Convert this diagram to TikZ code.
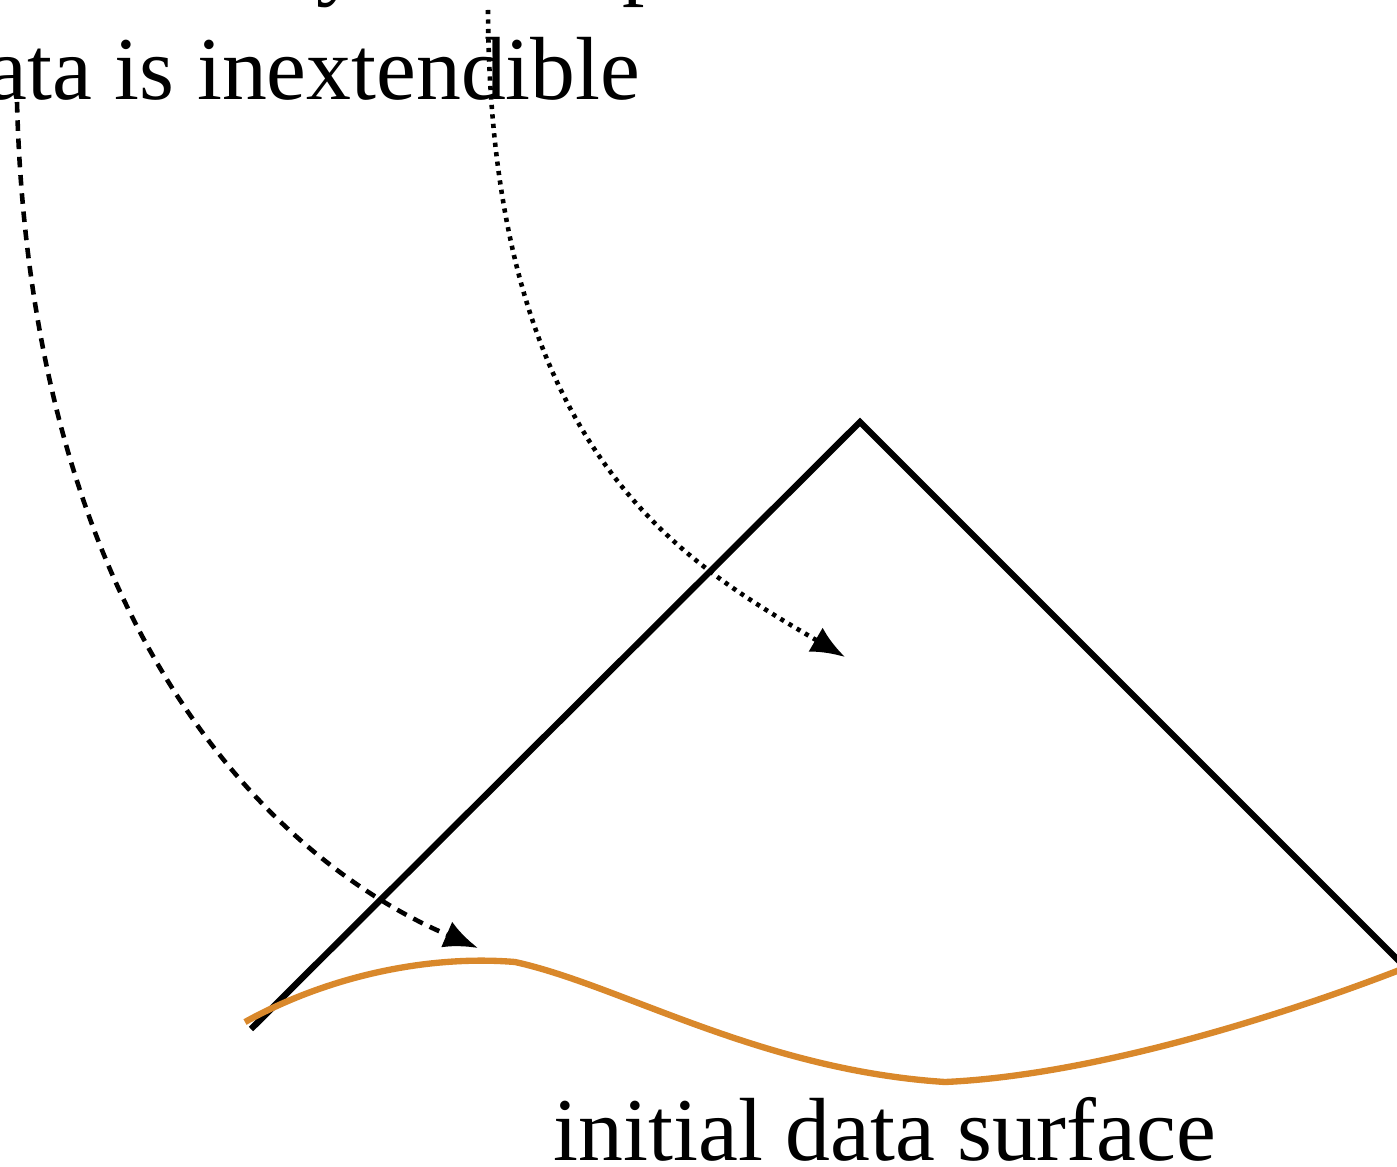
\documentclass[tikz,border=0pt]{standalone}
\usepackage{fontspec}
\setmainfont{Liberation Serif}
\usetikzlibrary{arrows.meta}
\definecolor{surforange}{RGB}{217,136,43}

\begin{document}
\begin{tikzpicture}[x=0.01cm,y=-0.01cm,
    edge/.style={line width=1.8pt,line join=miter},
    surf/.style={line width=1.8pt,draw=surforange},
    lbl/.style={font=\fontsize{25.5}{30}\selectfont,inner sep=0pt},
    arr/.style={-{Latex[length=3.4mm,width=2.8mm]},line width=1.3pt}]
  \useasboundingbox (0,0) rectangle (1397,1167);
  \clip (0,0) rectangle (1397,1167);
  % light cone of the development
  \coordinate (bl) at (251,1029);
  \coordinate (apex) at (860,422);
  \coordinate (br) at (1420,982);
  \draw[edge] (bl) -- (apex) -- (br);
  % initial data surface
  \draw[surf] (245,1022) .. controls (330,975) and (430,955) .. (515,962)
    .. controls (620,985) and (760,1070) .. (945,1082)
    .. controls (1100,1075) and (1300,1010) .. (1420,962);
  \node[lbl,anchor=base west] (surflbl) at (553,1160) {initial data surface};
  \node[lbl,anchor=base east] (inext) at (641,100) {the data is inextendible};
  \node[lbl,anchor=base west] (maxdev) at (-250,-11) {maximal Cauchy development of};
  \coordinate (dashtail) at (17,102);
  \coordinate (dashtip) at (478,948);
  \coordinate (dottail) at (488,10);
  \coordinate (dottip) at (845,657);
  \draw[arr,dash pattern=on 3pt off 2.2pt] (dashtail) .. controls (30,600) and (250,850) .. (dashtip);
  \draw[arr,dash pattern=on 1.2pt off 1.5pt] (dottail) .. controls (490,450) and (680,560) .. (dottip);
\end{tikzpicture}
\end{document}
